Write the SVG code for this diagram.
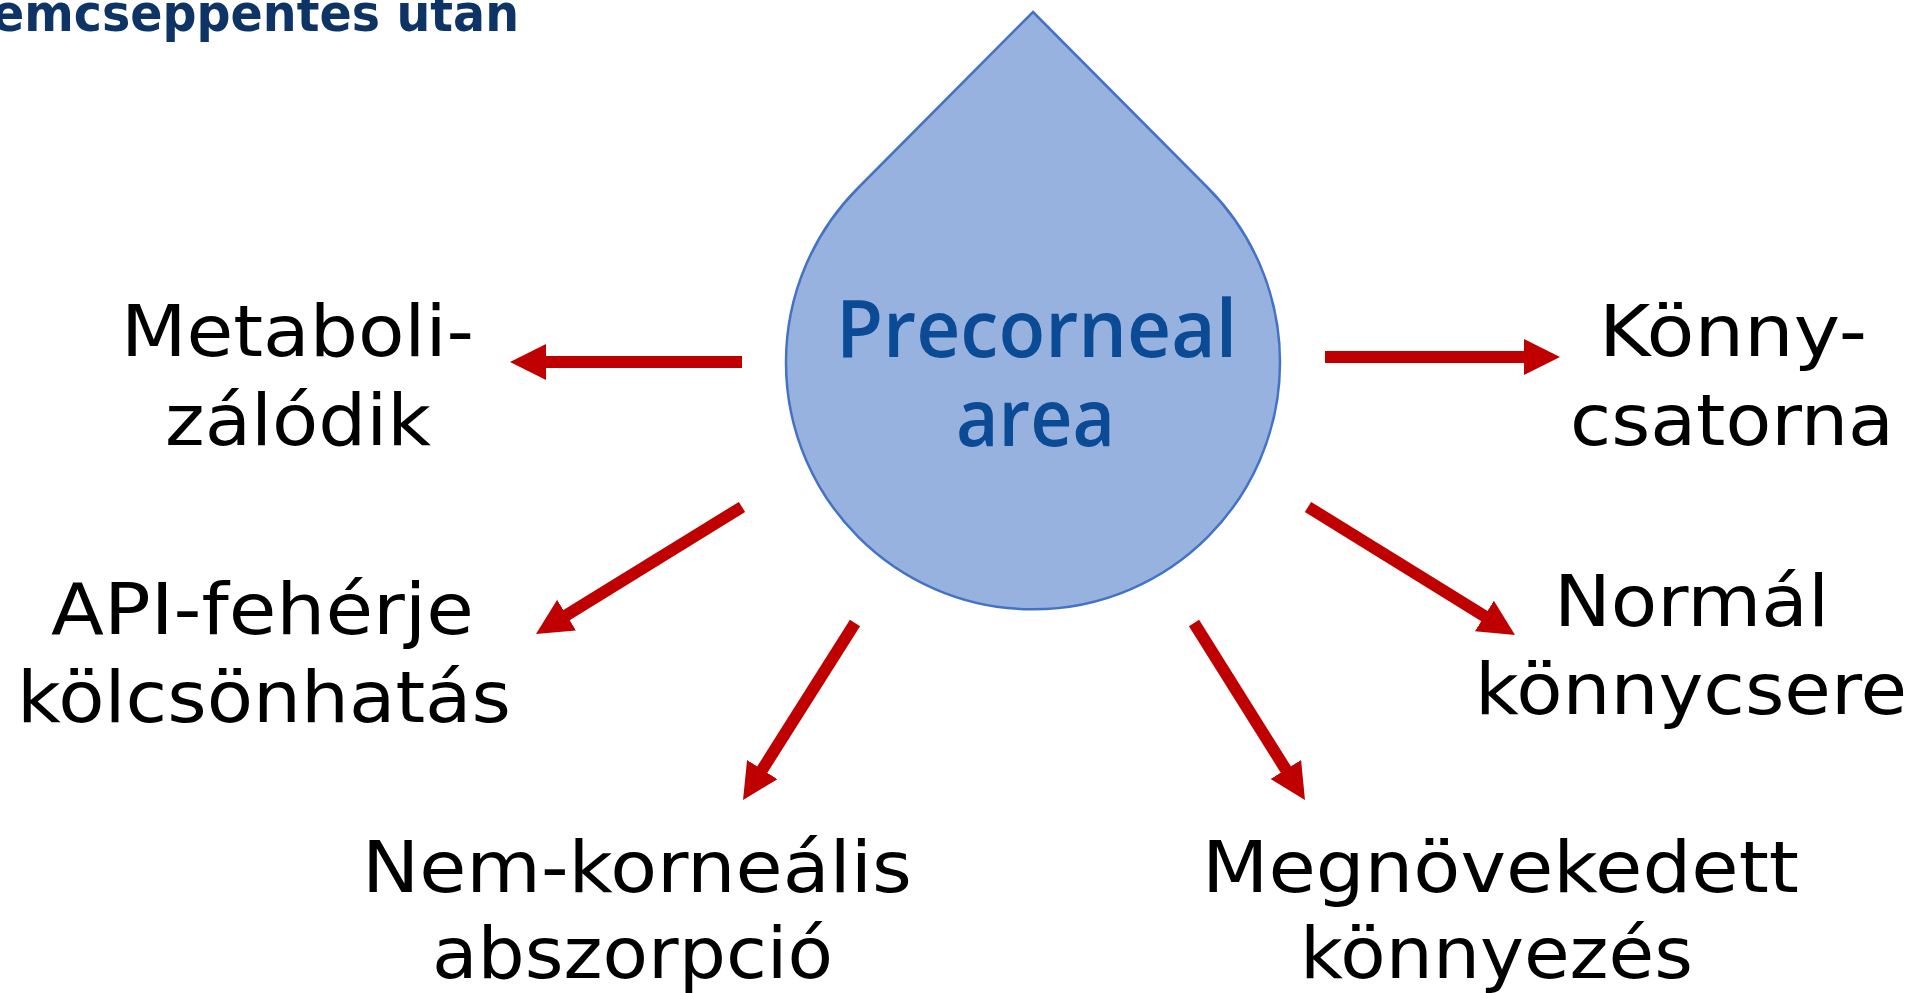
<svg xmlns="http://www.w3.org/2000/svg" width="1916" height="993" viewBox="0 0 1916 993">
<defs>
<style>
.lbl{font-family:"DejaVu Sans","Liberation Sans",sans-serif;font-size:72px;fill:#000}
.ttl{font-family:"DejaVu Sans","Liberation Sans",sans-serif;font-weight:bold;font-size:52px;fill:#0E3466}
.ctr{font-family:"Open Sans","DejaVu Sans",sans-serif;font-weight:600;font-size:80px;fill:#0B4A94}
.arr{stroke:#C00000;stroke-width:12;fill:none;marker-end:url(#ah)}
</style>
<marker id="ah" viewBox="0 0 36 36" markerWidth="36" markerHeight="36" markerUnits="userSpaceOnUse" refX="2" refY="18" orient="auto"><path d="M0,0 L36,18 L0,36 z" fill="#C00000"/></marker>
</defs>
<rect width="1916" height="993" fill="#ffffff"/>
<g id="title"><text class="ttl" x="-8" y="31" textLength="527" lengthAdjust="spacingAndGlyphs">emcseppentes utan</text></g>
<g id="precorneal">
<path d="M1033,12 L1208,188 A247,247 0 1 1 858,188 Z" fill="#98B2DF" stroke="#4472C4" stroke-width="2.5"/>
<text class="ctr" x="836" y="357" textLength="401" lengthAdjust="spacingAndGlyphs">Precorneal</text>
<text class="ctr" x="956" y="446" textLength="159" lengthAdjust="spacingAndGlyphs">area</text>
</g>
<g id="connectors">
<line class="arr" x1="742" y1="362" x2="544" y2="362"/>
<line class="arr" x1="1325" y1="357" x2="1526" y2="357"/>
<line class="arr" x1="742" y1="507" x2="564.9" y2="616.2"/>
<line class="arr" x1="1308" y1="507" x2="1486.1" y2="617.1"/>
<line class="arr" x1="855" y1="623" x2="761.2" y2="771.3"/>
<line class="arr" x1="1194" y1="623" x2="1286.9" y2="771.2"/>
</g>
<g id="metabolizalodik">
<text class="lbl" x="121" y="356" textLength="353" lengthAdjust="spacingAndGlyphs">Metaboli-</text>
<text class="lbl" x="165" y="445" textLength="266" lengthAdjust="spacingAndGlyphs">zálódik</text>
</g>
<g id="api-feherje">
<text class="lbl" x="51" y="634" textLength="423" lengthAdjust="spacingAndGlyphs">API-fehérje</text>
<text class="lbl" x="17" y="722" textLength="494" lengthAdjust="spacingAndGlyphs">kölcsönhatás</text>
</g>
<g id="nem-kornealis">
<text class="lbl" x="362" y="892" textLength="550" lengthAdjust="spacingAndGlyphs">Nem-korneális</text>
<text class="lbl" x="432" y="978" textLength="401" lengthAdjust="spacingAndGlyphs">abszorpció</text>
</g>
<g id="megnovekedett">
<text class="lbl" x="1202" y="892" textLength="597" lengthAdjust="spacingAndGlyphs">Megnövekedett</text>
<text class="lbl" x="1300" y="978" textLength="393" lengthAdjust="spacingAndGlyphs">könnyezés</text>
</g>
<g id="konnycsatorna">
<text class="lbl" x="1599" y="356" textLength="268" lengthAdjust="spacingAndGlyphs">Könny-</text>
<text class="lbl" x="1570" y="445" textLength="324" lengthAdjust="spacingAndGlyphs">csatorna</text>
</g>
<g id="normal-konnycsere">
<text class="lbl" x="1554" y="626" textLength="275" lengthAdjust="spacingAndGlyphs">Normál</text>
<text class="lbl" x="1475" y="714" textLength="432" lengthAdjust="spacingAndGlyphs">könnycsere</text>
</g>
</svg>
